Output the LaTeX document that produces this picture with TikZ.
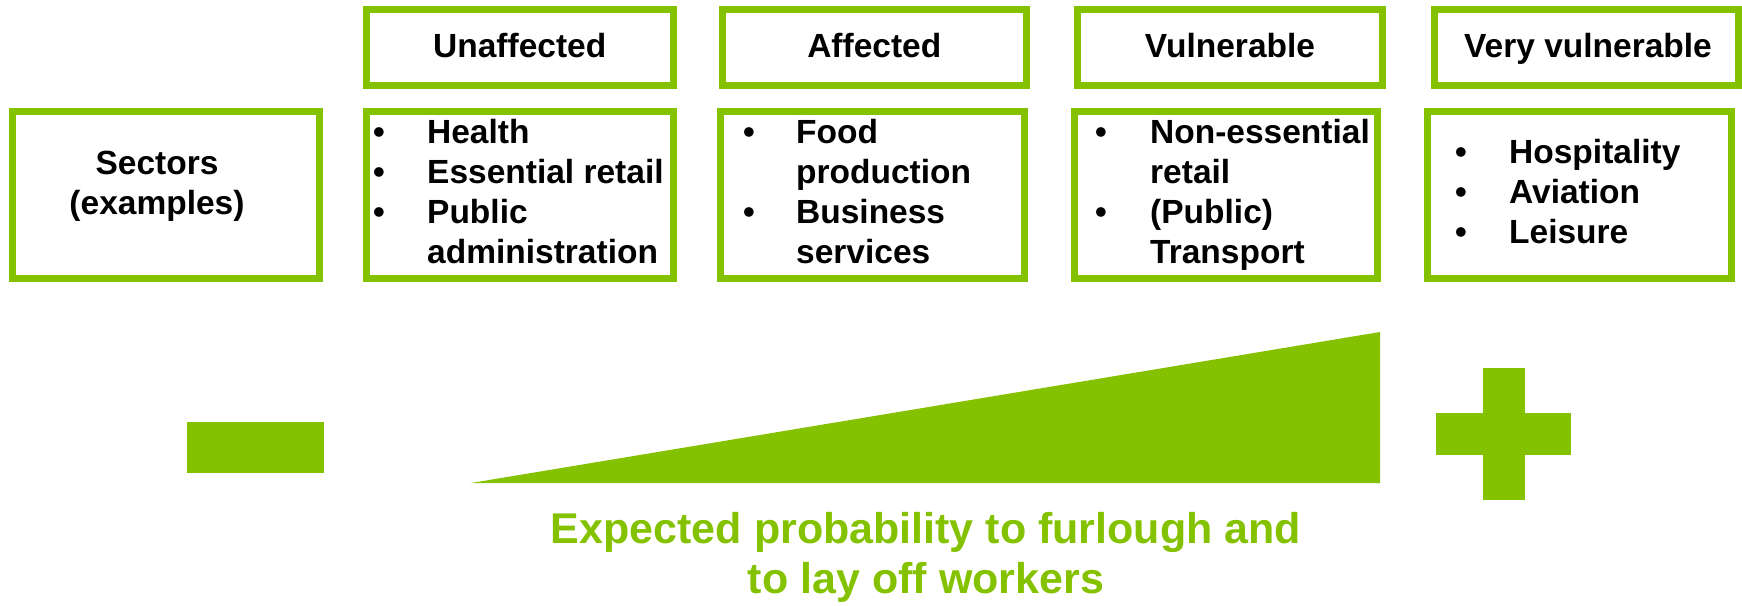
\documentclass[tikz,border=0pt]{standalone}
\usepackage{fontspec}
\setmainfont{Liberation Sans}
\definecolor{gr}{RGB}{132,194,0}
\begin{document}
\begin{tikzpicture}[x=1pt,y=-1pt,
  box/.style={draw=gr, line width=7pt, inner sep=0pt, fill=none},
  hd/.style={font=\bfseries\fontsize{33.5}{40}\selectfont, inner sep=0pt, anchor=base},
  lst/.style={font=\bfseries\fontsize{33.5}{40}\selectfont, inner sep=0pt, anchor=base west},
  shp/.style={fill=gr}]
\useasboundingbox (0,0) rectangle (1742,605);
% header boxes
\node[box, minimum width=306.5pt, minimum height=76.5pt] (h1) at (519.75,47.25) {};
\node[box, minimum width=304.5pt, minimum height=76.5pt] (h2) at (874.25,47.25) {};
\node[box, minimum width=305pt, minimum height=76.5pt] (h3) at (1230,47.25) {};
\node[box, minimum width=304pt, minimum height=76.5pt] (h4) at (1586.5,47.25) {};
\node[hd] (t1) at (519.75,57) {Unaffected};
\node[hd] (t2) at (874.25,57) {Affected};
\node[hd] (t3) at (1230,57) {Vulnerable};
\node[hd] (t4) at (1588,57) {Very vulnerable};
% second row boxes
\node[box, minimum width=307pt, minimum height=167pt] (s0) at (166,194.5) {};
\node[box, minimum width=306.5pt, minimum height=167pt] (s1) at (519.75,194.5) {};
\node[box, minimum width=304pt, minimum height=167pt] (s2) at (872.5,194.5) {};
\node[box, minimum width=303pt, minimum height=167pt] (s3) at (1226,194.5) {};
\node[box, minimum width=304pt, minimum height=167pt] (s4) at (1579.5,194.5) {};
\node[hd] (sec) at (157,174) {\begin{tabular}[t]{@{}c@{}}Sectors\\(examples)\end{tabular}};
\node[lst] (l1) at (373,143) {\begin{tabular}[t]{@{}p{54pt}@{}l@{}}•&Health\\•&Essential retail\\•&Public\\&administration\end{tabular}};
\node[lst] (l2) at (743,143) {\begin{tabular}[t]{@{}p{53pt}@{}l@{}}•&Food\\&production\\•&Business\\&services\end{tabular}};
\node[lst] (l3) at (1095,143) {\begin{tabular}[t]{@{}p{55pt}@{}l@{}}•&Non-essential\\&retail\\•&(Public)\\&Transport\end{tabular}};
\node[lst] (l4) at (1455,163) {\begin{tabular}[t]{@{}p{54pt}@{}l@{}}•&Hospitality\\•&Aviation\\•&Leisure\end{tabular}};
% minus, wedge, plus
\fill[shp] (187,422) rectangle (324,473);
\fill[shp] (471,483) -- (1380,483) -- (1380,332) -- cycle;
\fill[shp] (1483,368) rectangle (1525,500);
\fill[shp] (1436,413) rectangle (1571,455);
% label
\node[font=\bfseries\fontsize{43}{50}\selectfont, text=gr, inner sep=0pt, anchor=base] (lab) at (926,543)
  {\begin{tabular}[t]{@{}c@{}}Expected probability to furlough and\\to lay off workers\end{tabular}};
\end{tikzpicture}
\end{document}
